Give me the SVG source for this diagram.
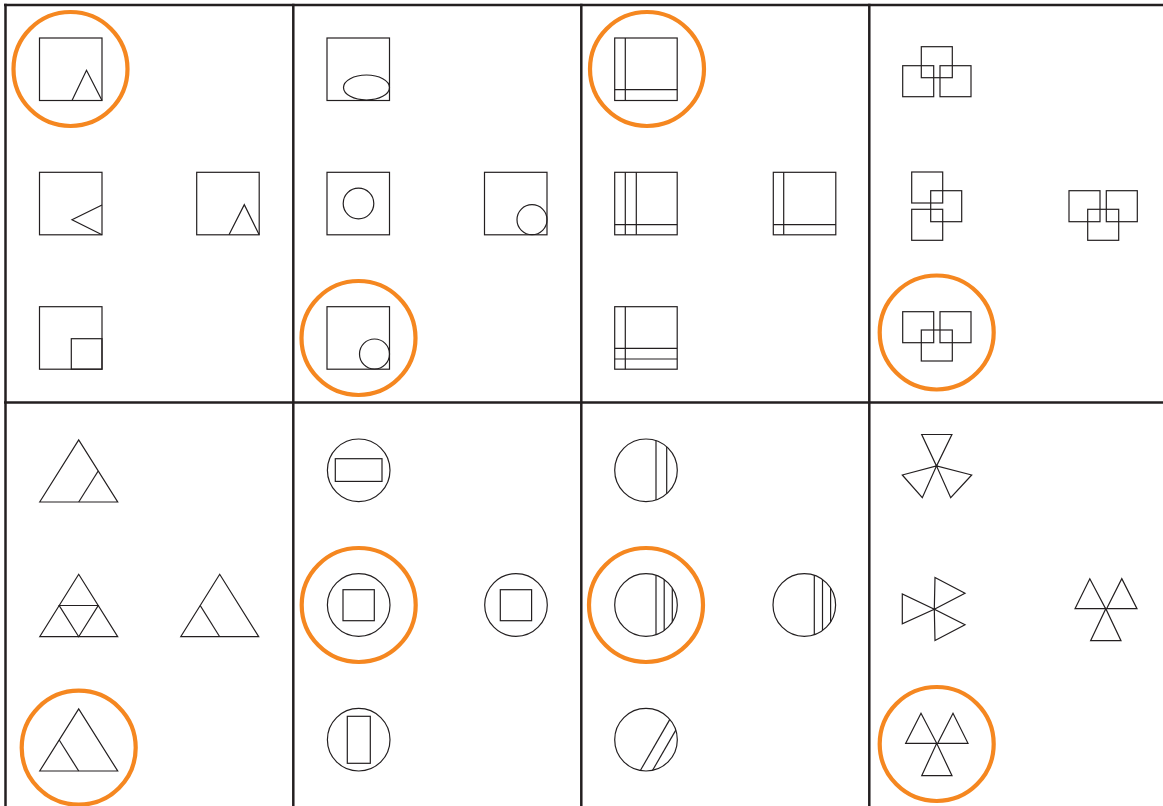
<svg xmlns="http://www.w3.org/2000/svg" width="1163" height="806" viewBox="0 0 1163 806">
<style>
.grid{stroke:#231f20;stroke-width:2.5;fill:none}
.s{fill:none;stroke:#231f20;stroke-width:1.2;stroke-linejoin:miter}
.hl{fill:none;stroke:#f58720;stroke-width:4.2}
</style>
<defs>
<rect id="sq" width="62.5" height="62.5"/>
<rect id="sm" width="31" height="31"/>
</defs>
<rect width="1163" height="806" fill="#fff"/>
<g id="grid" class="grid">
<line x1="4" y1="5" x2="1163" y2="5"/>
<line x1="4" y1="402.5" x2="1163" y2="402.5"/>
<line x1="5.5" y1="3.8" x2="5.5" y2="806"/>
<line x1="293.3" y1="3.8" x2="293.3" y2="806"/>
<line x1="581.3" y1="3.8" x2="581.3" y2="806"/>
<line x1="869.3" y1="3.8" x2="869.3" y2="806"/>
</g>
<g id="a1" class="s"><use href="#sq" x="39.5" y="38"/><polyline points="72,100.5 86.5,70.3 102,100.5"/></g>
<g id="a2" class="s"><use href="#sq" x="39.5" y="172.3"/><polyline points="102,205 72,219.8 102,234.8"/></g>
<g id="a3" class="s"><use href="#sq" x="196.7" y="172.3"/><polyline points="229,234.8 244.3,204.7 259.2,234.8"/></g>
<g id="a4" class="s"><use href="#sq" x="39.5" y="306.7"/><rect x="71.3" y="338.7" width="30.7" height="30.5"/></g>

<g id="b1" class="s"><use href="#sq" x="327" y="38"/><ellipse cx="366.5" cy="87.5" rx="23" ry="12.5"/></g>
<g id="b2" class="s"><use href="#sq" x="327" y="172.3"/><circle cx="358.5" cy="203.5" r="15.3"/></g>
<g id="b3" class="s"><use href="#sq" x="484.5" y="172.3"/><circle cx="532" cy="219.7" r="15"/></g>
<g id="b4" class="s"><use href="#sq" x="327" y="306.7"/><circle cx="374.5" cy="354" r="15"/></g>

<g id="c1" class="s"><use href="#sq" x="614.7" y="38"/><line x1="625.3" y1="38" x2="625.3" y2="100.5"/><line x1="614.7" y1="89.7" x2="677.2" y2="89.7"/></g>
<g id="c2" class="s"><use href="#sq" x="614.7" y="172.3"/><line x1="625.3" y1="172.3" x2="625.3" y2="234.8"/><line x1="636.3" y1="172.3" x2="636.3" y2="234.8"/><line x1="614.7" y1="224.7" x2="677.2" y2="224.7"/></g>
<g id="c3" class="s"><use href="#sq" x="773.3" y="172.3"/><line x1="783.7" y1="172.3" x2="783.7" y2="234.8"/><line x1="773.3" y1="224.7" x2="835.8" y2="224.7"/></g>
<g id="c4" class="s"><use href="#sq" x="614.7" y="306.7"/><line x1="625.3" y1="306.7" x2="625.3" y2="369.2"/><line x1="614.7" y1="348.3" x2="677.2" y2="348.3"/><line x1="614.7" y1="359" x2="677.2" y2="359"/></g>

<g id="d1" class="s"><use href="#sm" x="921.3" y="46.7"/><use href="#sm" x="902.7" y="65.7"/><use href="#sm" x="940" y="65.7"/></g>
<g id="d2" class="s"><use href="#sm" x="911.7" y="172"/><use href="#sm" x="930.7" y="190.7"/><use href="#sm" x="911.7" y="209.3"/></g>
<g id="d3" class="s"><use href="#sm" x="1069" y="190.7"/><use href="#sm" x="1106.3" y="190.7"/><use href="#sm" x="1087.7" y="209.3"/></g>
<g id="d4" class="s"><use href="#sm" x="902.7" y="311.7"/><use href="#sm" x="940" y="311.7"/><use href="#sm" x="921.3" y="330"/></g>

<g id="e1" class="s"><polygon points="39.7,502 78.7,440 117.7,502"/><line x1="78.7" y1="502" x2="98.2" y2="471"/></g>
<g id="e2" class="s"><polygon points="39.7,636.7 78.7,574.3 117.7,636.7"/><polygon points="59.2,605.5 98.2,605.5 78.7,636.7"/></g>
<g id="e3" class="s"><polygon points="180.7,636.7 219.7,574.3 258.7,636.7"/><line x1="200.2" y1="605.5" x2="219.7" y2="636.7"/></g>
<g id="e4" class="s"><polygon points="39.7,771 78.7,709 117.7,771"/><line x1="59.2" y1="740" x2="78.7" y2="771"/></g>

<g id="f1" class="s"><circle cx="358.7" cy="470.3" r="31.3"/><rect x="335.3" y="458.7" width="46.7" height="22.7"/></g>
<g id="f2" class="s"><circle cx="358.7" cy="605" r="31.3"/><rect x="343" y="589.7" width="31.3" height="31"/></g>
<g id="f3" class="s"><circle cx="516" cy="605" r="31.3"/><rect x="500.3" y="589.7" width="31.3" height="31"/></g>
<g id="f4" class="s"><circle cx="358.7" cy="739.7" r="31.3"/><rect x="347.3" y="716.3" width="23" height="47"/></g>

<g id="g1" class="s"><circle cx="646" cy="470.3" r="31.3"/><line x1="656" y1="440.6" x2="656" y2="500"/><line x1="666.7" y1="446.8" x2="666.7" y2="493.8"/></g>
<g id="g2" class="s"><circle cx="646" cy="605" r="31.3"/><line x1="656" y1="575.3" x2="656" y2="634.7"/><line x1="664.2" y1="579.5" x2="664.2" y2="630.5"/><line x1="672.3" y1="588" x2="672.3" y2="622"/></g>
<g id="g3" class="s"><circle cx="804.3" cy="605" r="31.3"/><line x1="814.3" y1="575.3" x2="814.3" y2="634.7"/><line x1="822.5" y1="579.5" x2="822.5" y2="630.5"/><line x1="830.6" y1="588" x2="830.6" y2="622"/></g>
<g id="g4" class="s"><circle cx="646" cy="739.7" r="31.3"/><line x1="640.35" y1="770.5" x2="669.85" y2="719.4"/><line x1="652.6" y1="770.3" x2="675.8" y2="730.1"/></g>

<g id="h1" class="s"><polygon points="921.7,434.5 951.9,434.5 936.5,466"/><polygon points="902.3,475 922.3,497.7 936.5,466"/><polygon points="971.7,475 950.7,497.7 936.5,466"/></g>
<g id="h2" class="s"><polygon points="902.3,594 902.3,623.8 934.3,609.3"/><polygon points="935,577.5 965,593.3 934.3,609.3"/><polygon points="935,640.5 965,624.8 934.3,609.3"/></g>
<g id="h3" class="s"><polygon points="1075,608.7 1089.8,578.7 1105.6,608.7"/><polygon points="1106.6,608.7 1121.8,578.7 1137,608.7"/><polygon points="1090.6,640.7 1105.8,608.7 1121,640.7"/></g>
<g id="h4" class="s"><polygon points="905.7,743.3 921,713.3 936.7,743.3"/><polygon points="937.7,743.3 953,713.3 968,743.3"/><polygon points="921.7,775.7 936.7,743.3 952,775.7"/></g>

<g id="highlights" class="hl">
<circle cx="70.5" cy="69" r="57"/>
<circle cx="358.5" cy="338" r="57"/>
<circle cx="647" cy="69" r="57"/>
<circle cx="936.7" cy="332.5" r="57"/>
<circle cx="78.7" cy="747.7" r="57"/>
<circle cx="358.7" cy="605" r="57"/>
<circle cx="646" cy="605" r="57"/>
<circle cx="936.7" cy="744" r="57"/>
</g>
</svg>
